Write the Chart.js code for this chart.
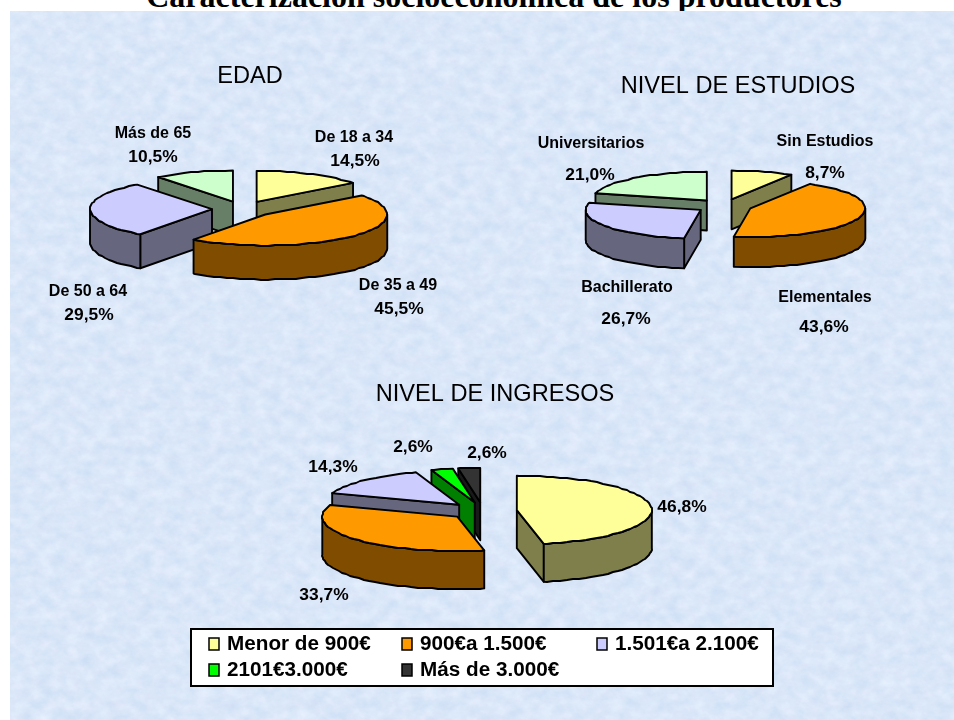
<!DOCTYPE html>
<html><head><meta charset="utf-8">
<style>
html,body{margin:0;padding:0;background:#fff;width:954px;height:720px;overflow:hidden}
#bg{position:absolute;left:10px;top:11px;width:944px;height:709px}
canvas{position:absolute;left:0;top:0}
#t{position:absolute;left:0;top:-22px;width:988px;text-align:center;font:bold 32px "Liberation Serif";color:#000;white-space:nowrap}
</style>
<script src="https://cdn.jsdelivr.net/npm/chart.js@4"></script>
</head><body>
<div id="t">Caracterización socioeconómica de los productores</div>
<svg id="bg" xmlns="http://www.w3.org/2000/svg" width="944" height="709">
<filter id="n" x="0" y="0" width="100%" height="100%" color-interpolation-filters="sRGB"><feTurbulence type="fractalNoise" baseFrequency="0.07 0.09" numOctaves="5" seed="7"/>
<feColorMatrix type="matrix" values="0.11 0.03 0 0 0.785  0.08 0 0 0 0.865  0.04 0 0 0 0.955  0 0 0 0 1"/></filter>
<rect width="944" height="709" filter="url(#n)"/></svg>
<canvas id="c1" width="954" height="720"></canvas>
<canvas id="c2" width="954" height="720"></canvas>
<canvas id="c3" width="954" height="720"></canvas>
<script>
const edadLabels=['De 18 a 34','De 35 a 49','De 50 a 64','Más de 65'];
const edadValues=[14.5,45.5,29.5,10.5];
const estudiosLabels=['Sin Estudios','Elementales','Bachillerato','Universitarios'];
const estudiosValues=[8.7,43.6,26.7,21.0];
const ingresosLabels=['Menor de 900€','900€a 1.500€','1.501€a 2.100€','2101€3.000€','Más de 3.000€'];
const ingresosValues=[46.8,33.7,14.3,2.6,2.6];
const colors4=['#FFFF99','#FF9900','#CCCCFF','#CCFFCC'];
const colors5=['#FFFF99','#FF9900','#CCCCFF','#00FF00','#333333'];

function dark(hex){const n=parseInt(hex.slice(1),16);
  return `rgb(${(n>>16)>>1},${((n>>8)&255)>>1},${(n&255)>>1})`;}
function pct(v){return v.toFixed(1).replace('.',',')+'%';}
const NF='"Liberation Sans"';
const GRID=1, STEP=7;

const pie3d={id:'pie3d',
  beforeDatasetsDraw(chart,args,o){
    const ctx=chart.ctx,meta=chart.getDatasetMeta(0);
    const slices=meta.data.map((arc,i)=>{
      const p=arc.getProps(['x','y','startAngle','endAngle','outerRadius'],true);
      const mid=(p.startAngle+p.endAngle)/2,off=arc.options.offset;
      const cx=p.x+Math.cos(mid)*off, cy=p.y+Math.sin(mid)*off*o.squash;
      return {...p,cx,cy,color:arc.options.backgroundColor};
    }).sort((a,b)=>a.cy-b.cy);
    ctx.save();ctx.lineWidth=o.line;ctx.strokeStyle='#000';ctx.lineJoin='round';
    for(const s of slices){
      const r=s.outerRadius,P=a=>[s.cx+Math.cos(a)*r,s.cy+Math.sin(a)*r*o.squash];
      const snap=q=>[Math.round(q[0]/GRID)*GRID,Math.round(q[1]/GRID)*GRID];
      const da=STEP/r;
      const arcPts=(a0,a1)=>{const out=[P(a0)];
        for(let k=Math.ceil(a0/da+0.2);k*da<a1-0.2*da;k++)out.push(snap(P(k*da)));
        out.push(P(a1));return out;};
      const d=o.depth,wall=dark(s.color);
      const shape=(pts)=>{ctx.beginPath();pts.forEach((q,i)=>i?ctx.lineTo(q[0],q[1]):ctx.moveTo(q[0],q[1]));ctx.closePath();ctx.fill();ctx.stroke();};
      ctx.fillStyle=wall;
      // radial walls that face the viewer
      if(Math.sin(s.startAngle+Math.PI/2)<0){const e=P(s.startAngle);
        shape([[s.cx,s.cy],e,[e[0],e[1]+d],[s.cx,s.cy+d]]);}
      if(Math.sin(s.endAngle+Math.PI/2)>0){const e=P(s.endAngle);
        shape([[s.cx,s.cy],e,[e[0],e[1]+d],[s.cx,s.cy+d]]);}
      // outer wall (lower half only)
      const a0=Math.max(s.startAngle,0),a1=Math.min(s.endAngle,Math.PI);
      if(a1>a0){const top=arcPts(a0,a1);
        const bot=arcPts(a0,a1).reverse().map(q=>[q[0],q[1]+d]);
        shape(top.concat(bot));}
      // top face
      ctx.fillStyle=s.color;shape([[s.cx,s.cy]].concat(arcPts(s.startAngle,s.endAngle)));
    }
    ctx.restore();
    return false;
  },
  afterDraw(chart,args,o){
    const ctx=chart.ctx,ds=chart.data.datasets[0];
    ctx.save();ctx.fillStyle='#000';ctx.textAlign='center';ctx.textBaseline='alphabetic';
    ctx.font='23.6px '+NF;ctx.fillText(o.title,o.titlePos[0],o.titlePos[1]);
    o.names.forEach((q,i)=>{if(!q)return;ctx.font='bold 16px '+NF;ctx.fillText(chart.data.labels[i],q[0],q[1]);});
    o.values.forEach((q,i)=>{ctx.font='bold 17.4px '+NF;ctx.fillText(pct(ds.data[i]),q[0],q[1]);});
    if(o.legend){
      const L=o.legend;
      ctx.fillStyle='#fff';ctx.strokeStyle='#000';ctx.lineWidth=2;
      ctx.fillRect(L.box[0],L.box[1],L.box[2],L.box[3]);ctx.strokeRect(L.box[0],L.box[1],L.box[2],L.box[3]);
      ctx.textAlign='left';ctx.font='bold 20.7px '+NF;
      chart.data.labels.forEach((t,i)=>{const [x,y]=L.items[i];
        ctx.fillStyle=ds.backgroundColor[i];ctx.lineWidth=1.5;
        ctx.fillRect(x,y-12,10,12);ctx.strokeRect(x,y-12,10,12);
        ctx.fillStyle='#000';ctx.fillText(t,x+18,y);});
    }
    ctx.restore();
  }
};

function make(id,labels,values,colors,geo,texts){
  const half=160;
  return new Chart(document.getElementById(id),{
    type:'pie',
    plugins:[pie3d],
    data:{labels,datasets:[{data:values,backgroundColor:colors,borderWidth:0,offset:geo.explode,radius:geo.r}]},
    options:{responsive:false,animation:false,
      layout:{padding:{left:geo.c[0]-half,right:954-geo.c[0]-half,top:geo.c[1]-half,bottom:720-geo.c[1]-half}},
      plugins:{legend:{display:false},tooltip:{enabled:false},
        pie3d:{squash:geo.squash,depth:geo.depth,line:1.9,...texts}}}
  });
}
make('c1',edadLabels,edadValues,colors4,{c:[243,209],r:122,explode:31,squash:.2545,depth:34},
 {title:'EDAD',titlePos:[250,83],names:[[354,142],[398,290],[88,296],[153,138]],values:[[355,166],[399,314],[89,320],[153,162]]});
make('c2',estudiosLabels,estudiosValues,colors4,{c:[724,206],r:115,explode:28,squash:.25,depth:30},
 {title:'NIVEL DE ESTUDIOS',titlePos:[738,93],names:[[825,146],[825,302],[627,292],[591,148]],values:[[825,178],[824,332],[626,324],[590,180]]});
make('c3',ingresosLabels,ingresosValues,colors5,{c:[483,511],r:135,explode:34,squash:.255,depth:38},
 {title:'NIVEL DE INGRESOS',titlePos:[495,401],names:[],values:[[682,512],[324,600],[333,472],[413,452],[487,458]],
  legend:{box:[191,629,582,57],items:[[209,650],[402,650],[597,650],[209,676],[402,676]]}});
</script>
</body></html>
